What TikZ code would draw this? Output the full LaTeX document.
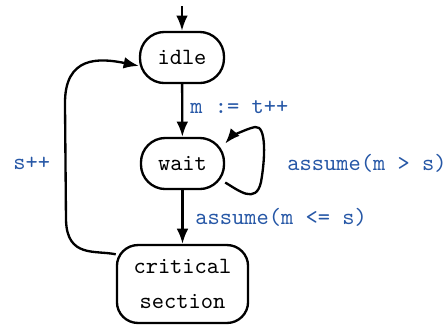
\documentclass[tikz,border=0pt]{standalone}
\usetikzlibrary{arrows.meta}
\definecolor{lblue}{RGB}{38,87,166}
\begin{document}
\begin{tikzpicture}[x=0.4286pt,y=-0.4286pt,
  state/.style={draw, line width=1pt, rounded corners=10.5pt, font=\ttfamily, inner sep=0pt, align=center},
  edge/.style={line width=1pt, -{Latex[length=6.5pt,width=5pt]}},
  lbl/.style={text=lblue, font=\ttfamily, inner sep=0pt}]
\useasboundingbox (0,0) rectangle (448,325);
\node[state, minimum width=36pt, minimum height=21.9pt] (idle) at (182,57.5) {idle};
\node[state, minimum width=35.6pt, minimum height=21.9pt] (wait) at (182.5,163.5) {wait};
\node[state, rounded corners=9pt, minimum width=56.2pt, minimum height=33.4pt, font=\ttfamily\fontsize{10}{15}\selectfont] (crit) at (182.5,284) {critical\\section};
\coordinate (start) at (182,6);
\draw[edge] (start) -- (idle);
\draw[edge] (idle) -- (wait);
\draw[edge] (wait) -- (crit);
\draw[edge] (wait.-24) .. controls (238,190) and (256,205) .. (261,182)
  .. controls (265,160) and (267,125) .. (255,127)
  .. controls (245,129) and (230,138) .. (wait.25);
\draw[edge] (crit.156) .. controls (95,250) and (67,258) .. (66,220)
  -- (65,105) .. controls (64,55) and (100,58) .. (idle.191);
\node[lbl, anchor=west] (l1) at (190,107) {m := t++};
\node[lbl, anchor=west] (l2) at (287,163) {assume(m > s)};
\node[lbl, anchor=west] (l3) at (195,217) {assume(m <= s)};
\node[lbl, anchor=west] (l4) at (13,163) {s++};
\end{tikzpicture}
\end{document}
